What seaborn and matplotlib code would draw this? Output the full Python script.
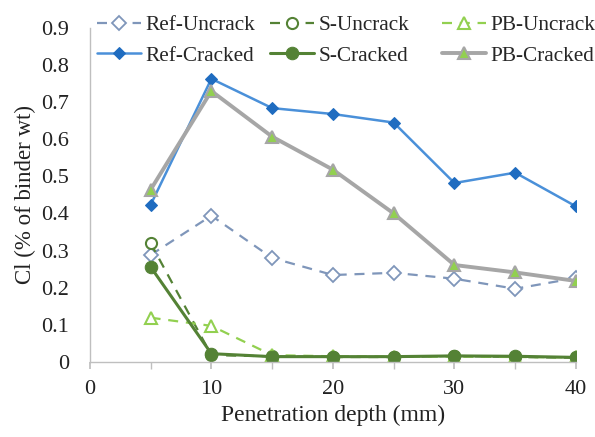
import matplotlib
matplotlib.use("Agg")
import matplotlib.pyplot as plt
import seaborn as sns
import numpy as np
from matplotlib.ticker import MultipleLocator

depth = [5, 10, 15, 20, 25, 30, 35, 40]
ref_uncrack = [0.288, 0.394, 0.280, 0.234, 0.240, 0.224, 0.197, 0.226]
s_uncrack = [0.320, 0.018, 0.015, 0.013, 0.013, 0.016, 0.013, 0.011]
pb_uncrack = [0.119, 0.097, 0.018, 0.015, 0.014, 0.014, 0.013, 0.012]
ref_cracked = [0.423, 0.763, 0.684, 0.668, 0.645, 0.482, 0.510, 0.419]
s_cracked = [0.256, 0.022, 0.014, 0.014, 0.014, 0.016, 0.015, 0.012]
pb_cracked = [0.464, 0.730, 0.607, 0.518, 0.400, 0.261, 0.241, 0.218]

x_ticks = [0, 10, 20, 30, 40]
y_ticks = [0, 0.1, 0.2, 0.3, 0.4, 0.5, 0.6, 0.7, 0.8, 0.9]

sns.set_theme(style="white")
plt.rcParams['font.family'] = ['Liberation Serif', 'DejaVu Serif']

fig = plt.figure(figsize=(5.95, 4.37), dpi=100)
ax = fig.add_axes([0.151, 0.172, 0.817, 0.764])

dash = (0, (4.5, 3.5))
series = [
    ("Ref-Uncrack", ref_uncrack, dict(color="#7F96BA", linestyle=dash, linewidth=1.6,
                                      marker="D", markersize=7, markerfacecolor="white",
                                      markeredgecolor="#7F96BA", markeredgewidth=1.3)),
    ("Ref-Cracked", ref_cracked, dict(color="#4A90D9", linestyle="-", linewidth=1.8,
                                      marker="D", markersize=6.5, markerfacecolor="#1F6CC0",
                                      markeredgecolor="#1F6CC0")),
    ("S-Uncrack", s_uncrack, dict(color="#548235", linestyle=dash, linewidth=1.6,
                                  marker="o", markersize=8, markerfacecolor="white",
                                  markeredgecolor="#548235", markeredgewidth=1.5)),
    ("S-Cracked", s_cracked, dict(color="#548235", linestyle="-", linewidth=2.2,
                                  marker="o", markersize=9, markerfacecolor="#548235",
                                  markeredgecolor="#548235")),
    ("PB-Uncrack", pb_uncrack, dict(color="#92D050", linestyle=dash, linewidth=1.6,
                                    marker="^", markersize=8.5, markerfacecolor="white",
                                    markeredgecolor="#92D050", markeredgewidth=1.5)),
    ("PB-Cracked", pb_cracked, dict(color="#A6A6A6", linestyle="-", linewidth=2.8,
                                    marker="^", markersize=9, markerfacecolor="#92D050",
                                    markeredgecolor="#A6A6A6", markeredgewidth=1.5)),
]

draw_order = [0, 2, 4, 1, 5, 3]
for i in draw_order:
    name, vals, kw = series[i]
    sns.lineplot(x=depth, y=vals, ax=ax, label=name, **kw)

ax.set_xlim(0, 40)
ax.set_ylim(0, 0.9)
ax.set_xticks(x_ticks)
ax.xaxis.set_minor_locator(MultipleLocator(5))
ax.set_yticks(y_ticks)
ax.set_yticklabels(["0" if v == 0 else f"{v:.1f}" for v in y_ticks])
ax.set_xticklabels([str(v) for v in x_ticks])

for s in ["top", "right"]:
    ax.spines[s].set_visible(False)
for s in ["left", "bottom"]:
    ax.spines[s].set_color("#BFBFBF")
    ax.spines[s].set_linewidth(1.0)

ax.tick_params(axis="x", which="both", direction="out", length=5, color="#BFBFBF",
               bottom=True, labelsize=16, pad=8, labelcolor="#222222")
ax.tick_params(axis="y", length=0, labelsize=16, pad=15, labelcolor="#222222")

ax.set_xlabel("Penetration depth (mm)", fontsize=17, color="#222222", labelpad=4)
ax.set_ylabel("Cl (% of binder wt)", fontsize=16.5, color="#222222", labelpad=4)

handles, labels = ax.get_legend_handles_labels()
if ax.get_legend():
    ax.get_legend().remove()
hmap = dict(zip(labels, handles))
columns = [("Ref-Uncrack", "Ref-Cracked", 0.157),
           ("S-Uncrack", "S-Cracked", 0.448),
           ("PB-Uncrack", "PB-Cracked", 0.737)]
for a, b, xpos in columns:
    fig.legend([hmap[a], hmap[b]], [a, b], loc="upper left",
               bbox_to_anchor=(xpos, 0.972), frameon=False, fontsize=15.3,
               handlelength=2.1, handletextpad=0.2, labelspacing=0.5,
               borderaxespad=0, borderpad=0.15)

fig.savefig("out.png", dpi=100)
